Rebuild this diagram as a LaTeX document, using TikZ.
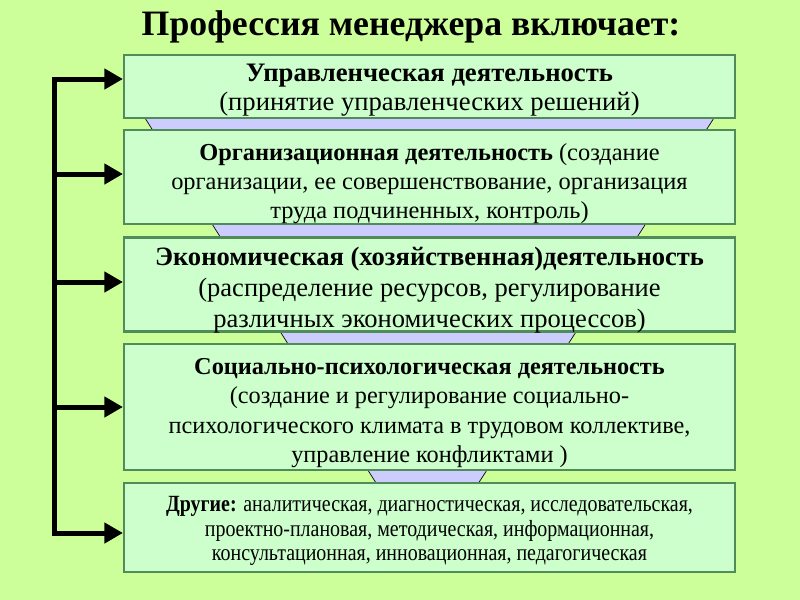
\documentclass[tikz,border=0pt]{standalone}
\usepackage{fontspec}
\setmainfont{Liberation Serif}
\newfontfamily\narrowfont[FakeStretch=0.86]{Liberation Serif}
\usetikzlibrary{arrows.meta}

\definecolor{bgGreen}{RGB}{204,255,153}
\definecolor{boxFill}{RGB}{204,255,204}
\definecolor{boxLine}{RGB}{80,140,90}
\definecolor{funnelFill}{RGB}{204,204,255}

\tikzset{every picture/.style={line width=0.75pt}}
\tikzset{
  actbox/.style={draw=boxLine, fill=boxFill, line width=1.6pt, minimum width=458.25pt, inner sep=0pt},
  boxtext/.style={align=center, inner sep=0pt, text=black},
  spine/.style={line width=3.75pt, line cap=rect},
  pointer/.style={line width=3.75pt, -{Triangle[length=14pt,width=15pt]}}
}

\begin{document}
\begin{tikzpicture}[x=0.75pt,y=0.75pt,yscale=-1]

\fill [bgGreen] (0,0) rectangle (800,600);

% funnel behind the boxes
\fill [funnelFill] (130.4,95) -- (728.8,95) -- (467.6,500) -- (386.8,500) -- cycle;
\draw [line width=0.5pt] (130.4,95) -- (386.8,500);
\draw [line width=0.5pt] (728.8,95) -- (467.6,500);

\node (title) at (411,27) [font=\bfseries\fontsize{26.8}{30}\selectfont] {Профессия менеджера включает:};

% boxes
\node (b1) at (429.5,86.5) [actbox, minimum height=47.25pt] {};
\node (b2) at (429.5,177) [actbox, minimum height=70.5pt] {};
\node (b3) at (429.5,284.5) [actbox, minimum height=70.5pt] {};
\node (b4) at (429.5,407) [actbox, minimum height=94.5pt] {};
\node (b5) at (429.5,527.5) [actbox, minimum height=66.75pt] {};

% texts
\node (t1) at (429.5,90) [boxtext, font=\fontsize{20}{21.75}\selectfont]
  {\textbf{Управленческая деятельность}\\(принятие управленческих решений)};
\node (t2) at (429.5,184) [boxtext, font=\fontsize{18.3}{21.75}\selectfont]
  {\textbf{Организационная деятельность} (создание\\организации, ее совершенствование, организация\\труда подчиненных, контроль)};
\node (t3) at (429.5,290.5) [boxtext, font=\fontsize{19.9}{23.25}\selectfont]
  {\textbf{Экономическая (хозяйственная)деятельность}\\(распределение ресурсов, регулирование\\различных экономических процессов)};
\node (t4) at (429.5,413) [boxtext, font=\fontsize{18.2}{22.1}\selectfont]
  {\textbf{Социально-психологическая деятельность}\\(создание и регулирование социально-\\психологического климата в трудовом коллективе,\\управление конфликтами )};
\node (t5) at (429.5,531) [boxtext, font=\narrowfont\fontsize{17.4}{18.4}\selectfont]
  {\textbf{Другие:} аналитическая, диагностическая, исследовательская,\\проектно-плановая, методическая, информационная,\\консультационная, инновационная, педагогическая};

% spine and arrows
\coordinate (s1) at (54,79);
\coordinate (s2) at (54,174);
\coordinate (s3) at (54,282);
\coordinate (s4) at (54,407);
\coordinate (s5) at (54,533);

\draw [spine] (s1) -- (s5);
\draw [pointer] (s1) -- (s1 -| b1.west);
\draw [pointer] (s2) -- (s2 -| b2.west);
\draw [pointer] (s3) -- (s3 -| b3.west);
\draw [pointer] (s4) -- (s4 -| b4.west);
\draw [pointer] (s5) -- (s5 -| b5.west);

\end{tikzpicture}
\end{document}
